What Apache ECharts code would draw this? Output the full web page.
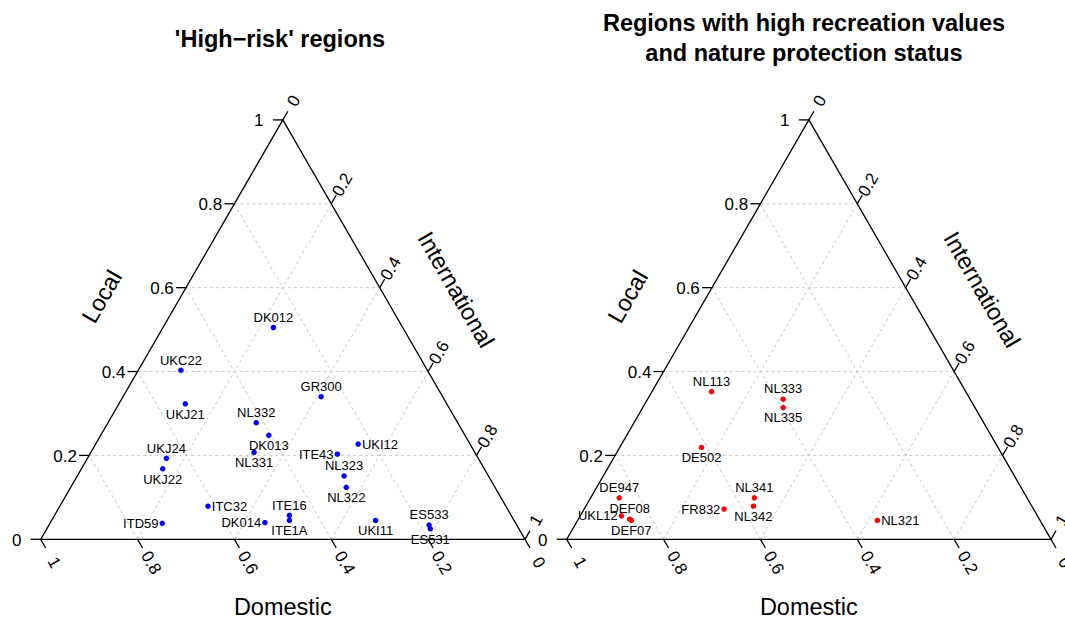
<!DOCTYPE html>
<html><head><meta charset="utf-8">
<script src="https://cdn.jsdelivr.net/npm/echarts@6/dist/echarts.min.js"></script>
<style>html,body{margin:0;padding:0;background:#fff}#chart{width:1065px;height:617px}</style>
</head><body><div id="chart"></div>
<script>
// ---- tick / axis text ----
const tickValues = [0, 0.2, 0.4, 0.6, 0.8, 1];
const tickLabels = ['0', '0.2', '0.4', '0.6', '0.8', '1'];
const gridValues = [0.2, 0.4, 0.6, 0.8];
const axisLocal = 'Local';
const axisInternational = 'International';
const axisDomestic = 'Domestic';
const titleLeft = "'High\u2212risk' regions";
const titleRight = 'Regions with high recreation values\nand nature protection status';

// ---- panel 1: 'High-risk' regions (shares: Local, International, Domestic) ----
const riskRegions = ['DK012','UKC22','UKJ21','GR300','NL332','DK013','NL331','UKI12','ITE43','NL323','NL322','UKJ24','UKJ22','ITC32','ITD59','DK014','ITE16','ITE1A','UKI11','ES533','ES531'];
const riskLocal = [0.505,0.403,0.323,0.340,0.278,0.248,0.207,0.227,0.203,0.151,0.124,0.193,0.168,0.079,0.038,0.040,0.057,0.045,0.045,0.034,0.025];
const riskInternational = [0.228,0.088,0.137,0.409,0.306,0.347,0.337,0.542,0.511,0.551,0.569,0.163,0.168,0.306,0.232,0.443,0.485,0.491,0.669,0.785,0.792];
const riskDomestic = [0.267,0.509,0.540,0.251,0.416,0.405,0.456,0.231,0.286,0.298,0.307,0.644,0.664,0.615,0.730,0.517,0.458,0.464,0.286,0.181,0.183];

// ---- panel 2: high recreation values + nature protection ----
const natureRegions = ['NL113','NL333','NL335','DE502','DE947','UKL12','DEF08','DEF07','FR832','NL341','NL342','NL321'];
const natureLocal = [0.352,0.334,0.314,0.219,0.099,0.056,0.048,0.045,0.072,0.099,0.079,0.045];
const natureInternational = [0.123,0.280,0.290,0.169,0.059,0.085,0.106,0.111,0.289,0.338,0.346,0.619];
const natureDomestic = [0.525,0.386,0.396,0.612,0.842,0.859,0.846,0.844,0.639,0.563,0.575,0.336];

// ---- label placement (style only) ----
const riskLabelSide = {DK012:'top',UKC22:'top',UKJ21:'bottom',GR300:'top',NL332:'top',DK013:'bottom',NL331:'bottom',UKI12:'right',ITE43:'left',NL323:'top',NL322:'bottom',UKJ24:'top',UKJ22:'bottom',ITC32:'right',ITD59:'left',DK014:'left',ITE16:'top',ITE1A:'bottom',UKI11:'bottom',ES533:'top',ES531:'bottom'};
const natureLabelSide = {NL113:'top',NL333:'top',NL335:'bottom',DE502:'bottom',DE947:'top',UKL12:'left',DEF08:'top',DEF07:'bottom',FR832:'left',NL341:'top',NL342:'bottom',NL321:'right'};

const FONT = '"Liberation Sans", Arial, Helvetica, sans-serif';
const S60 = Math.sin(Math.PI / 3), C60 = 0.5;

function renderFrame(params, api) {
  const P = (L, I) => api.coord([I + L / 2, L]);
  const ch = [];
  const line = (a, b, st) => ch.push({type: 'line', silent: true, shape: {x1: a[0], y1: a[1], x2: b[0], y2: b[1]}, style: Object.assign({}, st)});
  const text = (x, y, str, rot, size) => ch.push({type: 'text', silent: true, x: x, y: y, rotation: rot,
    style: {text: str, x: 0, y: 0, align: 'center', verticalAlign: 'middle', fill: '#000', font: size + 'px ' + FONT}});
  const gst = {stroke: '#c8c8c8', lineWidth: 1, lineDash: [3, 3]};
  gridValues.forEach(t => {
    line(P(t, 0), P(t, 1 - t), gst);          // Local = t
    line(P(0, t), P(1 - t, t), gst);          // International = t
    line(P(0, 1 - t), P(1 - t, 0), gst);      // Domestic = t
  });
  const A = P(0, 0), B = P(0, 1), C = P(1, 0);
  ch.push({type: 'polygon', silent: true, shape: {points: [A, B, C]}, style: {fill: 'none', stroke: '#000', lineWidth: 1.3}});
  const tst = {stroke: '#000', lineWidth: 1.3};
  tickValues.forEach((t, k) => {
    const lab = tickLabels[k];
    // Local ticks on left edge
    let p = P(t, 0);
    line(p, [p[0] - 10, p[1]], tst);
    text(p[0] - 24, p[1] + 1, lab, 0, 17);
    // International ticks on right edge
    p = P(1 - t, t);
    line(p, [p[0] + 10 * C60, p[1] - 10 * S60], tst);
    text(p[0] + 22 * C60, p[1] - 22 * S60, lab, Math.PI / 3, 17);
    // Domestic ticks on bottom edge
    p = P(0, 1 - t);
    line(p, [p[0] + 10 * C60, p[1] + 10 * S60], tst);
    text(p[0] + 27 * C60, p[1] + 27 * S60, lab, -Math.PI / 3, 17);
  });
  let m = P(0.5, 0);
  text(m[0] - 60, m[1] - 33, axisLocal, Math.PI / 3, 23.5);
  m = P(0.5, 0.5);
  text(m[0] + 52, m[1] - 40, axisInternational, -Math.PI / 3, 23.5);
  m = P(0, 0.5);
  text(m[0], m[1] + 68, axisDomestic, 0, 23.5);
  return {type: 'group', children: ch};
}

function scatterData(names, L, I, sides) {
  return names.map((n, i) => ({
    name: n,
    value: [I[i] + L[i] / 2, L[i]],
    label: {position: sides[n]}
  }));
}

const GRID_TOP = 119.9, GRID_W = 484.3, GRID_H = 419.4;
const chart = echarts.init(document.getElementById('chart'), null, {renderer: 'svg'});
const pointLabel = {show: true, formatter: '{b}', distance: 1, color: '#000', opacity: 1, fontSize: 13, fontFamily: FONT};
const option = {
  backgroundColor: '#fff',
  animation: false,
  grid: [
    {left: 40.7, top: GRID_TOP, width: GRID_W, height: GRID_H},
    {left: 566.7, top: GRID_TOP, width: GRID_W, height: GRID_H}
  ],
  xAxis: [0, 1].map(i => ({type: 'value', gridIndex: i, min: 0, max: 1, show: false})),
  yAxis: [0, 1].map(i => ({type: 'value', gridIndex: i, min: 0, max: 1, show: false})),
  graphic: [
    {type: 'text', x: 280, y: 39, style: {text: titleLeft, align: 'center', verticalAlign: 'middle', font: 'bold 23.5px ' + FONT, fill: '#000'}},
    {type: 'text', x: 804, y: 38, style: {text: titleRight, align: 'center', verticalAlign: 'middle', lineHeight: 30, font: 'bold 23.5px ' + FONT, fill: '#000'}}
  ],
  series: [0, 1].map(i => ({
    type: 'custom', xAxisIndex: i, yAxisIndex: i, clip: false, silent: true, z: 1,
    renderItem: renderFrame, data: [[0.5, 0.5]]
  })).concat([
    {type: 'scatter', xAxisIndex: 0, yAxisIndex: 0, z: 3, clip: false, symbolSize: 5.5,
     itemStyle: {color: '#0000ff', opacity: 1},
     label: pointLabel,
     emphasis: {disabled: true},
     data: scatterData(riskRegions, riskLocal, riskInternational, riskLabelSide)},
    {type: 'scatter', xAxisIndex: 1, yAxisIndex: 1, z: 3, clip: false, symbolSize: 5.5,
     itemStyle: {color: '#ff0000', opacity: 1},
     label: pointLabel,
     emphasis: {disabled: true},
     data: scatterData(natureRegions, natureLocal, natureInternational, natureLabelSide)}
  ])
};
chart.setOption(option);
</script></body></html>
